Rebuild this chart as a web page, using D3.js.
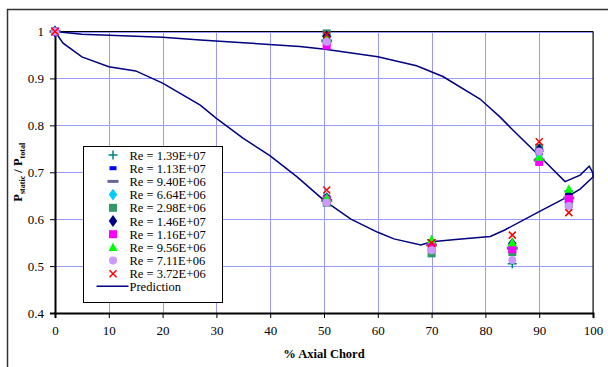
<!DOCTYPE html>
<html>
<head>
<meta charset="utf-8">
<script src="https://cdn.jsdelivr.net/npm/d3@7"></script>
<style>
  body { margin: 0; background: #fff; }
  svg, svg text { font-family: "Liberation Serif", "Times New Roman", serif; }
</style>
</head>
<body>
<script>
// measurement stations (% axial chord)
const stations = [0, 50.5, 50.5, 70, 85, 90, 95.5];

const seriesNames = [
  "Re = 1.39E+07", "Re = 1.13E+07", "Re = 9.40E+06", "Re = 6.64E+06", "Re = 2.98E+06",
  "Re = 1.46E+07", "Re = 1.16E+07", "Re = 9.56E+06", "Re = 7.11E+06", "Re = 3.72E+06"
];
const seriesMarkers = ["plus", "dash", "wide", "diamond", "square", "diamond", "square", "triangle", "circle", "cross"];
const seriesColors = ["#008080", "#0000ff", "#666699", "#00ccff", "#339966", "#000080", "#ff00ff", "#00ff00", "#cc99ff", "#ff0000"];

const seriesValues = [
  [1, 0.990, 0.640, 0.556, 0.505, 0.745, 0.660],
  [1, 0.985, 0.648, 0.548, 0.545, 0.740, 0.652],
  [1, 0.980, 0.640, 0.545, 0.538, 0.726, 0.645],
  [1, 0.975, 0.640, 0.550, 0.540, 0.730, 0.636],
  [1, 0.996, 0.635, 0.527, 0.530, 0.752, 0.632],
  [1, 0.990, 0.645, 0.550, 0.548, 0.748, 0.652],
  [1, 0.970, 0.642, 0.541, 0.536, 0.722, 0.643],
  [1, 0.985, 0.645, 0.556, 0.550, 0.732, 0.664],
  [1, 0.978, 0.635, 0.534, 0.513, 0.744, 0.628],
  [1, 0.993, 0.662, 0.549, 0.566, 0.765, 0.614]
];

// prediction: suction side 0 -> 100 then pressure side back to 0
const predX = [0, 5, 10, 20, 27, 35, 45.5, 50.2, 60, 67.2, 72.1, 79, 82.7, 85.1, 90, 94.8, 97.6, 99.3, 100,
  100, 97.6, 94.8, 90, 83.6, 80.9, 75, 70, 68, 63, 60, 55, 50, 45, 40, 35, 30, 27, 20, 15, 10, 5, 1.5, 0];
const predY = [1, 0.994, 0.992, 0.988, 0.982, 0.976, 0.968, 0.962, 0.946, 0.927, 0.904, 0.856, 0.818, 0.79, 0.735, 0.68, 0.694, 0.713, 0.698,
  0.69, 0.664, 0.645, 0.616, 0.577, 0.563, 0.557, 0.552, 0.545, 0.558, 0.572, 0.6, 0.64, 0.69, 0.735, 0.772, 0.815, 0.843, 0.89, 0.916, 0.925, 0.946, 0.975, 1];

const xTicks = d3.range(0, 101, 10);
const yTicks = [0.4, 0.5, 0.6, 0.7, 0.8, 0.9, 1];

const width = 608, height = 367;
const margin = { left: 55, right: 15, top: 31.5, bottom: 54 };
const serif = "'Liberation Serif', 'Times New Roman', serif";

const svg = d3.select("body").append("svg")
  .attr("width", width)
  .attr("height", height);

// outer chart frame
svg.append("rect")
  .attr("x", 7.5).attr("y", 9.5)
  .attr("width", 610).attr("height", 370)
  .attr("fill", "none").attr("stroke", "#333").attr("stroke-width", 1.5);

const x = d3.scaleLinear().domain([0, 100]).range([margin.left, width - margin.right]);
const y = d3.scaleLinear().domain([0.4, 1]).range([height - margin.bottom, margin.top]);

// grid
const grid = svg.append("g").attr("stroke", "#9999ff").attr("stroke-width", 1);
grid.selectAll(".vx").data(xTicks.slice(1)).join("line")
  .attr("x1", d => Math.round(x(d)) + 0.5).attr("x2", d => Math.round(x(d)) + 0.5)
  .attr("y1", y(1)).attr("y2", y(0.4));
grid.selectAll(".hy").data(yTicks.slice(1)).join("line")
  .attr("y1", d => Math.round(y(d)) + 0.5).attr("y2", d => Math.round(y(d)) + 0.5)
  .attr("x1", x(0)).attr("x2", x(100));

// plot border top/right
svg.append("path")
  .attr("d", `M${x(0)},${y(1)}H${x(100)}V${y(0.4)}`)
  .attr("fill", "none").attr("stroke", "#000").attr("stroke-width", 1);

// axes
const xAxis = svg.append("g")
  .attr("transform", `translate(0,${y(0.4)})`)
  .call(d3.axisBottom(x).tickValues(xTicks).tickSize(5).tickPadding(8).tickFormat(d3.format("d")));
const yAxis = svg.append("g")
  .attr("transform", `translate(${x(0)},0)`)
  .call(d3.axisLeft(y).tickValues(yTicks).tickSize(5).tickPadding(6).tickFormat(d => d === 1 ? "1" : d3.format(".1f")(d)));
[xAxis, yAxis].forEach(a => {
  a.attr("font-family", serif).attr("font-size", 13);
  a.select(".domain").attr("stroke", "#000").attr("stroke-width", 2);
  a.selectAll(".tick line").attr("stroke", "#000");
  a.selectAll("text").style("font-family", serif).attr("fill", "#000");
});

// prediction curve
svg.append("path")
  .datum(predX.map((d, i) => [d, predY[i]]))
  .attr("fill", "none")
  .attr("stroke", "#000080")
  .attr("stroke-width", 1.5)
  .attr("d", d3.line().x(d => x(d[0])).y(d => y(d[1])));

// marker shapes
function drawMarker(g, type, color) {
  if (type === "plus") {
    g.append("path").attr("d", "M-4.5,0H4.5M0,-4.5V4.5").attr("stroke", color).attr("stroke-width", 1.5);
  } else if (type === "dash") {
    g.append("rect").attr("x", -3.5).attr("y", -2).attr("width", 7).attr("height", 4).attr("fill", color);
  } else if (type === "wide") {
    g.append("rect").attr("x", -5.5).attr("y", -1.5).attr("width", 11).attr("height", 3).attr("fill", color);
  } else if (type === "diamond") {
    g.append("path").attr("d", d3.symbol(d3.symbolDiamond, 40)()).attr("fill", color).attr("transform", "scale(1.25,1)");
  } else if (type === "square") {
    g.append("rect").attr("x", -4).attr("y", -4).attr("width", 8).attr("height", 8).attr("fill", color);
  } else if (type === "triangle") {
    g.append("path").attr("d", "M0,-5L4.5,3.5H-4.5Z").attr("fill", color);
  } else if (type === "circle") {
    g.append("circle").attr("r", 4).attr("fill", color);
  } else if (type === "cross") {
    g.append("path").attr("d", "M-3.5,-3.5L3.5,3.5M3.5,-3.5L-3.5,3.5").attr("stroke", color).attr("stroke-width", 1.5);
  }
}

seriesValues.forEach((vals, s) => {
  const g = svg.append("g");
  vals.forEach((v, i) => {
    const m = g.append("g").attr("transform", `translate(${x(stations[i])},${y(v)})`);
    drawMarker(m, seriesMarkers[s], seriesColors[s]);
  });
});

// legend
const legend = svg.append("g").attr("transform", "translate(83.5,146.5)");
legend.append("rect")
  .attr("width", 139).attr("height", 156)
  .attr("fill", "#fff").attr("stroke", "#000").attr("stroke-width", 1);
seriesNames.forEach((name, i) => {
  const row = legend.append("g").attr("transform", `translate(0,${8.5 + i * 13.2})`);
  drawMarker(row.append("g").attr("transform", "translate(29.5,0)"), seriesMarkers[i], seriesColors[i]);
  row.append("text").attr("x", 46).attr("y", 4.5)
    .style("font-family", serif).attr("font-size", 12.5).attr("fill", "#000").text(name);
});
const predRow = legend.append("g").attr("transform", `translate(0,${8.5 + 9 * 13.2 + 12.5})`);
predRow.append("line").attr("x1", 13).attr("x2", 45).attr("stroke", "#000080").attr("stroke-width", 1.5);
predRow.append("text").attr("x", 46).attr("y", 4.5)
  .style("font-family", serif).attr("font-size", 12.5).attr("fill", "#000").text("Prediction");

// axis titles
svg.append("text")
  .attr("x", x(50)).attr("y", 358)
  .attr("text-anchor", "middle")
  .style("font-family", serif)
  .attr("font-weight", "bold").attr("font-size", 12.5)
  .text("% Axial Chord");

const yt = svg.append("text")
  .attr("transform", `translate(22,${(y(1) + y(0.4)) / 2}) rotate(-90)`)
  .attr("text-anchor", "middle")
  .style("font-family", serif)
  .attr("font-weight", "bold").attr("font-size", 12.5);
yt.append("tspan").text("P");
yt.append("tspan").attr("font-size", 8).attr("dy", 3).text("static");
yt.append("tspan").attr("dy", -3).text(" / P");
yt.append("tspan").attr("font-size", 8).attr("dy", 3).text("total");
</script>
</body>
</html>
